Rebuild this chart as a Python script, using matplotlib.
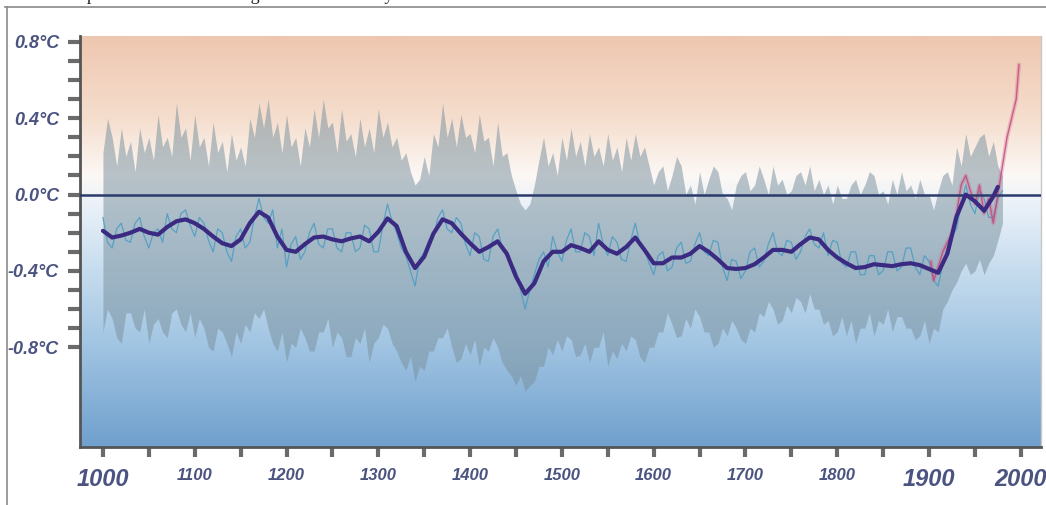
import numpy as np
import matplotlib
matplotlib.use("Agg")
import matplotlib.pyplot as plt
from matplotlib.colors import LinearSegmentedColormap
from matplotlib.lines import Line2D

# 每五年一个点，从图上读出的数值 (1000-1980)
years5 = np.arange(1000, 1985, 5)

band_upper = [
    0.22, 0.40, 0.30, 0.15, 0.35, 0.20, 0.28, 0.12, 0.35, 0.22, 0.30, 0.18, 0.42, 0.25, 0.30, 0.20, 0.48, 0.30, 0.35, 0.18,
    0.42, 0.25, 0.30, 0.15, 0.38, 0.22, 0.28, 0.12, 0.32, 0.18, 0.25, 0.15, 0.40, 0.30, 0.48, 0.35, 0.50, 0.30, 0.38, 0.22,
    0.42, 0.25, 0.30, 0.15, 0.35, 0.25, 0.45, 0.30, 0.50, 0.35, 0.38, 0.22, 0.45, 0.28, 0.32, 0.20, 0.40, 0.25, 0.35, 0.22,
    0.45, 0.30, 0.38, 0.25, 0.30, 0.18, 0.22, 0.12, 0.05, 0.08, 0.20, 0.10, 0.32, 0.25, 0.48, 0.30, 0.40, 0.25, 0.42, 0.30,
    0.32, 0.22, 0.42, 0.28, 0.30, 0.15, 0.38, 0.20, 0.22, 0.10, 0.02, -0.05, -0.08, -0.05, 0.05, 0.18, 0.30, 0.15, 0.22, 0.10,
    0.30, 0.18, 0.35, 0.20, 0.28, 0.15, 0.32, 0.20, 0.25, 0.15, 0.32, 0.18, 0.25, 0.12, 0.30, 0.18, 0.32, 0.20, 0.25, 0.15,
    0.05, 0.12, 0.15, 0.02, 0.10, 0.20, 0.15, 0.00, 0.05, -0.05, 0.12, 0.00, 0.08, 0.15, 0.12, 0.00, -0.02, -0.08, 0.05, 0.10,
    0.12, 0.02, 0.05, 0.15, 0.08, 0.00, 0.15, 0.05, 0.08, 0.00, 0.02, 0.10, 0.12, 0.05, 0.15, 0.02, 0.08, 0.00, 0.05, -0.05,
    0.05, -0.02, -0.02, 0.05, 0.08, 0.00, 0.05, 0.12, 0.10, 0.00, 0.02, -0.05, 0.08, 0.00, 0.12, 0.02, 0.05, -0.02, 0.08, 0.00,
    0.00, -0.08, 0.02, 0.10, 0.12, 0.05, 0.25, 0.15, 0.32, 0.20, 0.25, 0.30, 0.32, 0.20, 0.28, 0.15, 0.10]

band_lower = [
    -0.72, -0.60, -0.65, -0.75, -0.78, -0.62, -0.62, -0.70, -0.72, -0.60, -0.78, -0.68, -0.65, -0.72, -0.75, -0.62, -0.60, -0.68, -0.72, -0.62,
    -0.75, -0.65, -0.70, -0.80, -0.82, -0.70, -0.72, -0.78, -0.85, -0.72, -0.78, -0.68, -0.72, -0.62, -0.65, -0.60, -0.70, -0.78, -0.82, -0.72,
    -0.88, -0.78, -0.80, -0.70, -0.75, -0.82, -0.82, -0.72, -0.72, -0.65, -0.80, -0.72, -0.75, -0.85, -0.85, -0.75, -0.78, -0.70, -0.88, -0.78,
    -0.75, -0.68, -0.70, -0.78, -0.82, -0.88, -0.92, -0.85, -0.98, -0.90, -0.92, -0.82, -0.82, -0.75, -0.75, -0.70, -0.80, -0.88, -0.86, -0.78,
    -0.84, -0.76, -0.90, -0.80, -0.82, -0.75, -0.80, -0.88, -0.92, -0.95, -1.00, -0.95, -1.03, -1.00, -0.98, -0.90, -0.90, -0.80, -0.84, -0.76,
    -0.82, -0.74, -0.76, -0.85, -0.84, -0.78, -0.88, -0.80, -0.80, -0.72, -0.90, -0.82, -0.86, -0.78, -0.82, -0.74, -0.76, -0.85, -0.88, -0.80,
    -0.80, -0.72, -0.72, -0.62, -0.68, -0.75, -0.74, -0.65, -0.70, -0.60, -0.64, -0.72, -0.72, -0.80, -0.78, -0.70, -0.74, -0.66, -0.70, -0.76,
    -0.78, -0.70, -0.72, -0.62, -0.64, -0.56, -0.60, -0.68, -0.66, -0.58, -0.62, -0.54, -0.56, -0.62, -0.52, -0.60, -0.60, -0.68, -0.66, -0.74,
    -0.72, -0.64, -0.74, -0.66, -0.78, -0.70, -0.70, -0.62, -0.74, -0.66, -0.68, -0.60, -0.72, -0.64, -0.64, -0.70, -0.70, -0.76, -0.74, -0.66,
    -0.78, -0.70, -0.72, -0.60, -0.56, -0.50, -0.46, -0.40, -0.36, -0.42, -0.40, -0.34, -0.42, -0.36, -0.32, -0.24, -0.15]

proxy_raw = [
    -0.12, -0.25, -0.28, -0.18, -0.15, -0.24, -0.25, -0.15, -0.12, -0.22, -0.28, -0.20, -0.18, -0.25, -0.10, -0.18, -0.20, -0.10, -0.08, -0.16,
    -0.22, -0.12, -0.15, -0.24, -0.30, -0.18, -0.20, -0.30, -0.35, -0.22, -0.18, -0.28, -0.25, -0.12, -0.02, -0.12, -0.15, -0.08, -0.28, -0.18,
    -0.38, -0.26, -0.22, -0.34, -0.30, -0.20, -0.15, -0.26, -0.28, -0.18, -0.18, -0.28, -0.30, -0.20, -0.20, -0.30, -0.28, -0.16, -0.18, -0.30,
    -0.30, -0.16, -0.05, -0.14, -0.20, -0.28, -0.32, -0.40, -0.48, -0.34, -0.30, -0.24, -0.22, -0.12, -0.08, -0.18, -0.20, -0.12, -0.15, -0.26,
    -0.32, -0.20, -0.22, -0.34, -0.35, -0.22, -0.18, -0.28, -0.30, -0.36, -0.40, -0.50, -0.60, -0.50, -0.42, -0.34, -0.30, -0.38, -0.22, -0.30,
    -0.35, -0.24, -0.18, -0.30, -0.30, -0.20, -0.22, -0.32, -0.15, -0.26, -0.32, -0.22, -0.25, -0.34, -0.35, -0.24, -0.15, -0.26, -0.28, -0.36,
    -0.42, -0.32, -0.30, -0.40, -0.38, -0.28, -0.25, -0.36, -0.35, -0.26, -0.20, -0.30, -0.32, -0.24, -0.25, -0.38, -0.45, -0.34, -0.35, -0.44,
    -0.40, -0.30, -0.28, -0.38, -0.35, -0.26, -0.20, -0.30, -0.32, -0.24, -0.25, -0.34, -0.30, -0.22, -0.18, -0.26, -0.28, -0.20, -0.32, -0.24,
    -0.25, -0.36, -0.38, -0.30, -0.30, -0.42, -0.42, -0.32, -0.32, -0.42, -0.40, -0.30, -0.30, -0.40, -0.38, -0.28, -0.28, -0.38, -0.42, -0.32,
    -0.35, -0.45, -0.48, -0.36, -0.28, -0.22, -0.18, -0.05, 0.05, -0.05, -0.10, 0.02, -0.02, -0.12, -0.12, -0.02, 0.02]

smooth_years = list(range(1000, 1980, 10)) + [1975]
smooth_vals = [-0.19, -0.225, -0.215, -0.20, -0.18, -0.20, -0.21, -0.17, -0.14, -0.13,
               -0.15, -0.18, -0.22, -0.255, -0.27, -0.235, -0.15, -0.09, -0.12, -0.22,
               -0.29, -0.30, -0.26, -0.225, -0.22, -0.235, -0.245, -0.23, -0.22, -0.245,
               -0.195, -0.125, -0.165, -0.30, -0.385, -0.325, -0.205, -0.13, -0.15, -0.205,
               -0.255, -0.30, -0.275, -0.245, -0.31, -0.43, -0.52, -0.465, -0.35, -0.30,
               -0.30, -0.265, -0.28, -0.30, -0.245, -0.29, -0.31, -0.275, -0.225, -0.29,
               -0.36, -0.36, -0.33, -0.33, -0.31, -0.27, -0.30, -0.34, -0.385, -0.39,
               -0.385, -0.365, -0.33, -0.29, -0.29, -0.30, -0.26, -0.225, -0.235, -0.29,
               -0.33, -0.36, -0.385, -0.38, -0.365, -0.37, -0.375, -0.365, -0.36, -0.37,
               -0.39, -0.41, -0.31, -0.115, 0.0, -0.035, -0.085, -0.01, 0.04]

instr_years = [1902, 1905, 1910, 1915, 1920, 1925, 1930, 1935, 1940, 1945, 1950,
               1955, 1960, 1965, 1970, 1975, 1980, 1985, 1990, 1995, 1998]
instr_vals = [-0.35, -0.45, -0.38, -0.30, -0.25, -0.20, -0.10, 0.05, 0.10, 0.02, -0.05,
              0.05, -0.10, -0.02, -0.15, 0.00, 0.15, 0.30, 0.40, 0.50, 0.68]

y_ticks = [0.8, 0.4, 0.0, -0.4, -0.8]
y_labels = ["0.8°C", "0.4°C", "0.0°C", "-0.4°C", "-0.8°C"]
x_ticks = list(range(1000, 2001, 100))
x_labels = [str(v) for v in x_ticks]
big_years = ["1000", "1900", "2000"]

lab_color = "#4b5380"
xmin, xmax = 975, 2022
ymin, ymax = -1.323, 0.831

fig = plt.figure(figsize=(10.46, 5.05), dpi=100)
ax = fig.add_axes([80 / 1046, 1 - 447 / 505, 961 / 1046, 411 / 505])

# 背景渐变：上暖下冷
stops = [(-1.323, (112, 160, 205)), (-0.8, (160, 196, 226)), (-0.4, (198, 220, 238)),
         (-0.05, (234, 241, 248)), (0.1, (252, 248, 245)), (0.4, (245, 222, 206)),
         (0.831, (238, 199, 176))]
cmap = LinearSegmentedColormap.from_list(
    "bg", [((t - ymin) / (ymax - ymin), tuple(c / 255 for c in col)) for t, col in stops])
grad = np.linspace(0, 1, 400).reshape(-1, 1)
ax.imshow(grad, cmap=cmap, aspect="auto", origin="lower",
          extent=[xmin, xmax, ymin, ymax], zorder=0)

ax.fill_between(years5, band_lower, band_upper, color=(0.48, 0.57, 0.62),
                alpha=0.52, lw=0, zorder=1)
ax.plot(years5, proxy_raw, color="#4a9cc4", lw=0.9, alpha=0.85, zorder=2)
ax.plot(instr_years, instr_vals, color="#d06090", lw=3, alpha=0.3, zorder=2)
ax.plot(instr_years, instr_vals, color="#c2477a", lw=1.0, alpha=0.8, zorder=2)
ax.axhline(0, color="#2b3a6c", lw=1.8, zorder=3)
ax.plot(smooth_years, smooth_vals, color="#3b2a82", lw=3, zorder=4,
        solid_capstyle="round", solid_joinstyle="round")

ax.set_xlim(xmin, xmax)
ax.set_ylim(ymin, ymax)

ax.set_yticks(y_ticks)
ax.set_yticklabels(y_labels)
ax.set_yticks(np.arange(-0.8, 0.81, 0.1), minor=True)
ax.set_xticks(x_ticks)
ax.set_xticklabels(x_labels)
ax.set_xticks(np.arange(1050, 2000, 100), minor=True)

ax.tick_params(axis="y", which="both", length=9, width=3, color="#6b6b6b",
               pad=6, labelsize=13, labelcolor=lab_color)
ax.tick_params(axis="x", which="both", length=7, width=3, color="#6b6b6b",
               pad=8, labelsize=12, labelcolor=lab_color)
for lab in ax.get_yticklabels() + ax.get_xticklabels():
    lab.set_fontweight("bold")
    lab.set_fontstyle("italic")
    lab.set_family("Liberation Sans")
    if lab.get_text() in big_years:
        lab.set_fontsize(17)

for side in ["left", "bottom"]:
    ax.spines[side].set_color("#555555")
    ax.spines[side].set_linewidth(2)
ax.spines["top"].set_visible(False)
ax.spines["right"].set_color("#c8c8c8")
ax.spines["right"].set_linewidth(1)

# 外框和被裁掉的标题
fig.add_artist(Line2D([5 / 1046, 1], [1 - 7 / 505, 1 - 7 / 505],
                      transform=fig.transFigure, color="#8a8a8a", lw=1.2))
fig.add_artist(Line2D([7 / 1046, 7 / 1046], [0, 1 - 7 / 505],
                      transform=fig.transFigure, color="#8a8a8a", lw=1.2))
fig.text(55 / 1046, 1.0, "Temperature Record Through the Last Century",
         family="Liberation Serif", fontsize=13, va="baseline", color="#222222")

fig.savefig("out.png", dpi=100)
